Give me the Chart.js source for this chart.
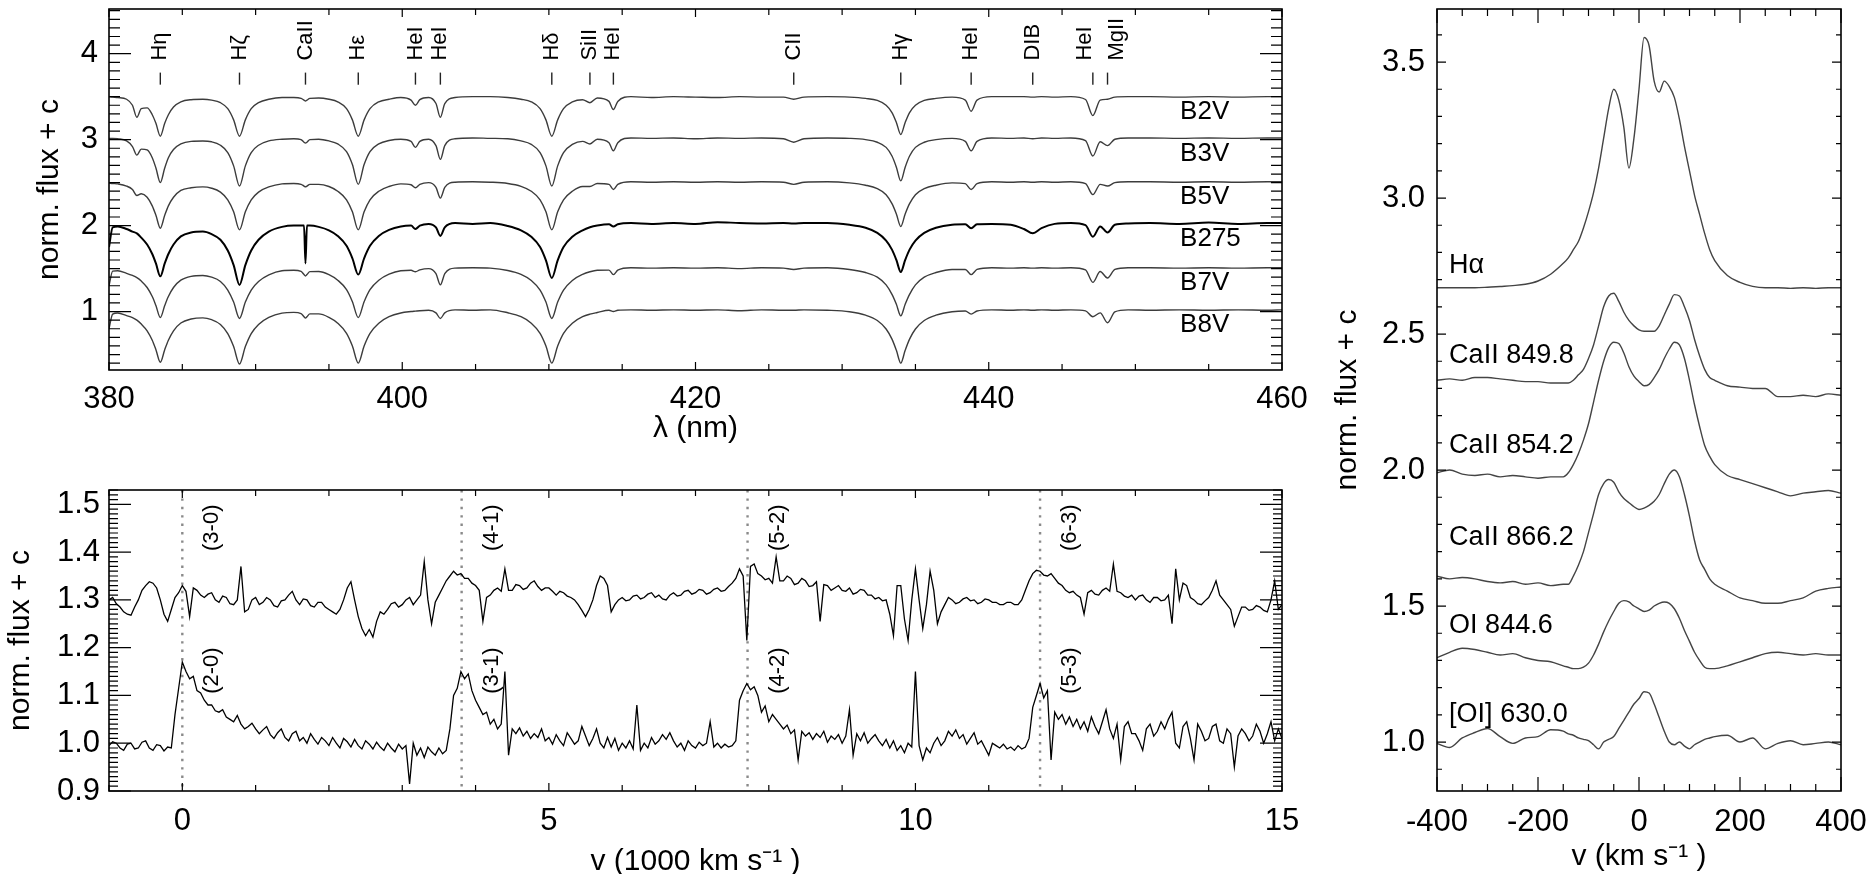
<!DOCTYPE html>
<html>
<head>
<meta charset="utf-8">
<script src="https://cdn.jsdelivr.net/npm/chart.js@4.4.1/dist/chart.umd.min.js"></script>
<style>
    body { margin: 0; background: #fff; width: 1871px; height: 874px; overflow: hidden; position: relative; }
    canvas { position: absolute; }
</style>
</head>
<body>
<canvas id="specChart" width="1340" height="444" style="left:0;top:0"></canvas>
<canvas id="bandChart" width="1340" height="414" style="left:0;top:460px"></canvas>
<canvas id="lineChart" width="571" height="874" style="left:1300px;top:0"></canvas>
<script>
// ---- top left: B-type standards and B275 (norm. flux + c) ----
const wavelengths = [
    380.0, 380.25, 380.6, 381.2, 381.6, 381.9, 382.2, 382.6, 382.95, 383.2, 383.5, 383.8, 384.05, 384.4, 384.9, 385.6, 386.4,
    387.0, 387.6, 388.1, 388.5, 388.9, 389.3, 389.7, 390.2, 390.9, 391.8, 392.6,
    393.1, 393.3, 393.4, 393.5, 393.7, 394.3, 395.0, 395.6, 396.2, 396.6, 397.0, 397.4, 397.8, 398.4, 399.1, 399.9,
    400.6, 400.9, 401.2, 401.8, 402.3, 402.6, 402.9, 403.6, 404.8, 406.0, 407.2,
    408.1, 408.8, 409.4, 409.8, 410.2, 410.6, 411.0, 411.6, 412.3, 412.8, 413.3, 414.1, 414.4, 414.7, 415.6,
    417.0, 418.5, 420.0, 421.5, 423.0, 424.5, 426.0, 426.7, 427.4, 429.0, 430.5, 431.6,
    432.4, 433.0, 433.4, 433.7, 434.0, 434.3, 434.6, 435.0, 435.6, 436.4, 437.5,
    438.4, 438.8, 439.2, 440.2, 441.5, 442.4, 443.0, 443.6, 444.5, 445.6, 446.6, 447.1, 447.6, 448.1, 448.6, 449.5,
    451.0, 453.0, 455.0, 457.0, 459.0, 460.0
];
const fluxB2V = [
    3.50, 3.495, 3.49, 3.47, 3.40, 3.26, 3.36, 3.37, 3.29, 3.19, 3.04, 3.19, 3.29, 3.38, 3.44, 3.465, 3.47,
    3.46, 3.43, 3.36, 3.23, 3.04, 3.23, 3.36, 3.43, 3.47, 3.49, 3.49,
    3.48, 3.46, 3.45, 3.46, 3.48, 3.485, 3.47, 3.44, 3.36, 3.23, 3.04, 3.23, 3.36, 3.44, 3.47, 3.49,
    3.46, 3.40, 3.465, 3.49, 3.42, 3.26, 3.42, 3.49, 3.50, 3.50, 3.49,
    3.47, 3.44, 3.36, 3.23, 3.04, 3.23, 3.36, 3.44, 3.465, 3.43, 3.485, 3.445, 3.35, 3.445, 3.50,
    3.49, 3.50, 3.495, 3.49, 3.50, 3.495, 3.495, 3.47, 3.495, 3.50, 3.495, 3.48,
    3.456, 3.40, 3.315, 3.20, 3.06, 3.20, 3.315, 3.40, 3.456, 3.48, 3.495,
    3.46, 3.33, 3.46, 3.50, 3.50, 3.50, 3.495, 3.50, 3.495, 3.50, 3.467, 3.28, 3.46, 3.47, 3.495, 3.50,
    3.50, 3.495, 3.50, 3.495, 3.50, 3.50
];
const fluxB3V = [
    3.015, 3.015, 3.01, 2.985, 2.92, 2.82, 2.89, 2.88, 2.79, 2.67, 2.50, 2.67, 2.79, 2.885, 2.95, 2.98, 2.985,
    2.975, 2.935, 2.85, 2.695, 2.46, 2.695, 2.85, 2.935, 2.985, 3.005, 3.01,
    3.0, 2.97, 2.96, 2.97, 3.0, 3.005, 2.985, 2.95, 2.86, 2.71, 2.48, 2.71, 2.86, 2.95, 2.99, 3.005,
    2.98, 2.91, 2.98, 3.005, 2.93, 2.77, 2.93, 3.01, 3.02, 3.015, 3.01,
    2.985, 2.945, 2.85, 2.695, 2.46, 2.695, 2.85, 2.945, 2.98, 2.95, 3.005, 2.965, 2.87, 2.965, 3.02,
    3.015, 3.02, 3.01, 3.02, 3.015, 3.02, 3.01, 2.97, 3.01, 3.02, 3.015, 3.0,
    2.97, 2.91, 2.81, 2.68, 2.52, 2.68, 2.81, 2.91, 2.97, 3.0, 3.015,
    2.98, 2.87, 2.98, 3.02, 3.015, 3.02, 3.01, 3.02, 3.015, 3.02, 2.99, 2.81, 2.975, 2.93, 3.005, 3.02,
    3.02, 3.015, 3.02, 3.015, 3.02, 3.02
];
const fluxB5V = [
    2.495, 2.49, 2.485, 2.46, 2.42, 2.35, 2.37, 2.33, 2.23, 2.12, 1.97, 2.12, 2.23, 2.33, 2.41, 2.44, 2.45,
    2.435, 2.39, 2.30, 2.16, 1.95, 2.16, 2.30, 2.39, 2.45, 2.485, 2.49,
    2.48, 2.46, 2.45, 2.46, 2.48, 2.48, 2.455, 2.40, 2.30, 2.16, 1.95, 2.16, 2.30, 2.40, 2.455, 2.485,
    2.475, 2.44, 2.48, 2.50, 2.445, 2.32, 2.445, 2.505, 2.51, 2.505, 2.49,
    2.457, 2.40, 2.30, 2.16, 1.95, 2.16, 2.30, 2.40, 2.455, 2.455, 2.49, 2.48, 2.42, 2.48, 2.51,
    2.505, 2.51, 2.505, 2.51, 2.505, 2.51, 2.505, 2.48, 2.505, 2.51, 2.497, 2.47,
    2.43, 2.36, 2.255, 2.135, 1.99, 2.135, 2.255, 2.36, 2.43, 2.47, 2.497,
    2.488, 2.42, 2.488, 2.51, 2.505, 2.51, 2.505, 2.51, 2.505, 2.51, 2.488, 2.36, 2.48, 2.46, 2.50, 2.51,
    2.51, 2.505, 2.51, 2.505, 2.51, 2.51
];
const fluxB275 = [
    1.75, 1.98, 1.99, 1.96, 1.93, 1.91, 1.86, 1.78, 1.67, 1.56, 1.41, 1.56, 1.67, 1.78, 1.875, 1.92, 1.93,
    1.90, 1.835, 1.71, 1.54, 1.31, 1.54, 1.71, 1.835, 1.93, 1.985, 2.0,
    2.0, 2.0, 1.56, 2.0, 2.0, 1.985, 1.945, 1.88, 1.765, 1.62, 1.43, 1.62, 1.765, 1.88, 1.95, 1.99,
    2.0, 1.96, 2.0, 2.02, 1.98, 1.88, 1.98, 2.03, 2.02, 2.03, 1.995,
    1.945, 1.87, 1.75, 1.595, 1.39, 1.595, 1.75, 1.87, 1.945, 1.98, 2.0, 2.015, 1.99, 2.015, 2.03,
    2.02, 2.03, 2.02, 2.04, 2.03, 2.025, 2.03, 2.025, 2.03, 2.03, 2.01, 1.975,
    1.915, 1.825, 1.72, 1.60, 1.46, 1.60, 1.72, 1.825, 1.915, 1.975, 2.01,
    2.015, 1.97, 2.015, 2.02, 2.01, 1.96, 1.91, 1.97, 2.02, 2.03, 2.005, 1.87, 1.99, 1.92, 2.01, 2.025,
    2.03, 2.02, 2.035, 2.02, 2.03, 2.03
];
const fluxB7V = [
    1.30, 1.47, 1.475, 1.445, 1.42, 1.395, 1.355, 1.28, 1.175, 1.07, 0.93, 1.07, 1.175, 1.28, 1.365, 1.41, 1.42,
    1.40, 1.35, 1.25, 1.11, 0.92, 1.11, 1.25, 1.35, 1.427, 1.475, 1.48,
    1.467, 1.43, 1.414, 1.43, 1.464, 1.466, 1.43, 1.365, 1.255, 1.115, 0.93, 1.115, 1.255, 1.365, 1.435, 1.475,
    1.48, 1.463, 1.485, 1.50, 1.44, 1.31, 1.44, 1.505, 1.51, 1.505, 1.478,
    1.433, 1.362, 1.25, 1.11, 0.92, 1.11, 1.25, 1.362, 1.433, 1.463, 1.48, 1.482, 1.43, 1.482, 1.51,
    1.505, 1.51, 1.505, 1.51, 1.50, 1.51, 1.505, 1.49, 1.505, 1.51, 1.49, 1.454,
    1.40, 1.31, 1.20, 1.085, 0.95, 1.085, 1.20, 1.31, 1.40, 1.454, 1.49,
    1.49, 1.43, 1.49, 1.51, 1.505, 1.51, 1.505, 1.51, 1.505, 1.51, 1.484, 1.34, 1.466, 1.39, 1.49, 1.51,
    1.51, 1.505, 1.51, 1.505, 1.51, 1.51
];
const fluxB8V = [
    0.80, 0.97, 0.983, 0.953, 0.93, 0.90, 0.855, 0.776, 0.666, 0.556, 0.41, 0.556, 0.666, 0.776, 0.867, 0.913, 0.926,
    0.905, 0.85, 0.743, 0.592, 0.39, 0.592, 0.743, 0.85, 0.932, 0.982, 0.99,
    0.977, 0.94, 0.923, 0.94, 0.973, 0.973, 0.933, 0.865, 0.747, 0.60, 0.40, 0.60, 0.747, 0.865, 0.94, 0.983,
    1.0, 1.005, 1.01, 1.015, 0.985, 0.92, 0.985, 1.02, 1.015, 1.02, 0.986,
    0.94, 0.865, 0.747, 0.60, 0.40, 0.60, 0.747, 0.865, 0.94, 0.97, 0.989, 1.015, 1.0, 1.015, 1.02,
    1.015, 1.02, 1.015, 1.02, 1.01, 1.02, 1.015, 1.015, 1.02, 1.015, 0.998, 0.958,
    0.896, 0.797, 0.679, 0.549, 0.40, 0.549, 0.679, 0.797, 0.896, 0.958, 0.998,
    1.007, 0.97, 1.007, 1.02, 1.015, 1.02, 1.015, 1.02, 1.015, 1.02, 1.008, 0.94, 0.985, 0.87, 0.997, 1.02,
    1.015, 1.02, 1.015, 1.02, 1.015, 1.02
];
const spectralTypes = ['B2V', 'B3V', 'B5V', 'B275', 'B7V', 'B8V'];
const lineIds = ['Hη', 'Hζ', 'CaII', 'Hε', 'HeI', 'HeI', 'Hδ', 'SiII', 'HeI', 'CII', 'Hγ', 'HeI', 'DIB', 'HeI', 'MgII'];
const lineWavelengths = [383.5, 388.9, 393.4, 397.0, 400.9, 402.6, 410.2, 412.8, 414.4, 426.7, 434.0, 438.8, 443.0, 447.1, 448.1];

// ---- bottom left: CO bandheads, v in 1000 km/s ----
const velocity1000 = [
    -1.00, -0.95, -0.90, -0.85, -0.80, -0.75, -0.70, -0.65, -0.60, -0.55, -0.50, -0.45, -0.40, -0.35, -0.30, -0.25, -0.20, -0.15, -0.10, -0.05,
    0.00, 0.05, 0.10, 0.15, 0.20, 0.25, 0.30, 0.35, 0.40, 0.45, 0.50, 0.55, 0.60, 0.65, 0.70, 0.75, 0.80, 0.85, 0.90, 0.95,
    1.00, 1.05, 1.10, 1.15, 1.20, 1.25, 1.30, 1.35, 1.40, 1.45, 1.50, 1.55, 1.60, 1.65, 1.70, 1.75, 1.80, 1.85, 1.90, 1.95,
    2.00, 2.05, 2.10, 2.15, 2.20, 2.25, 2.30, 2.35, 2.40, 2.45, 2.50, 2.55, 2.60, 2.65, 2.70, 2.75, 2.80, 2.85, 2.90, 2.95,
    3.00, 3.05, 3.10, 3.15, 3.20, 3.25, 3.30, 3.35, 3.40, 3.45, 3.50, 3.55, 3.60, 3.65, 3.70, 3.75, 3.80, 3.85, 3.90, 3.95,
    4.00, 4.05, 4.10, 4.15, 4.20, 4.25, 4.30, 4.35, 4.40, 4.45, 4.50, 4.55, 4.60, 4.65, 4.70, 4.75, 4.80, 4.85, 4.90, 4.95,
    5.00, 5.05, 5.10, 5.15, 5.20, 5.25, 5.30, 5.35, 5.40, 5.45, 5.50, 5.55, 5.60, 5.65, 5.70, 5.75, 5.80, 5.85, 5.90, 5.95,
    6.00, 6.05, 6.10, 6.15, 6.20, 6.25, 6.30, 6.35, 6.40, 6.45, 6.50, 6.55, 6.60, 6.65, 6.70, 6.75, 6.80, 6.85, 6.90, 6.95,
    7.00, 7.05, 7.10, 7.15, 7.20, 7.25, 7.30, 7.35, 7.40, 7.45, 7.50, 7.55, 7.60, 7.65, 7.70, 7.75, 7.80, 7.85, 7.90, 7.95,
    8.00, 8.05, 8.10, 8.15, 8.20, 8.25, 8.30, 8.35, 8.40, 8.45, 8.50, 8.55, 8.60, 8.65, 8.70, 8.75, 8.80, 8.85, 8.90, 8.95,
    9.00, 9.05, 9.10, 9.15, 9.20, 9.25, 9.30, 9.35, 9.40, 9.45, 9.50, 9.55, 9.60, 9.65, 9.70, 9.75, 9.80, 9.85, 9.90, 9.95,
    10.00, 10.05, 10.10, 10.15, 10.20, 10.25, 10.30, 10.35, 10.40, 10.45, 10.50, 10.55, 10.60, 10.65, 10.70, 10.75, 10.80, 10.85, 10.90, 10.95,
    11.00, 11.05, 11.10, 11.15, 11.20, 11.25, 11.30, 11.35, 11.40, 11.45, 11.50, 11.55, 11.60, 11.65, 11.70, 11.75, 11.80, 11.85, 11.90, 11.95,
    12.00, 12.05, 12.10, 12.15, 12.20, 12.25, 12.30, 12.35, 12.40, 12.45, 12.50, 12.55, 12.60, 12.65, 12.70, 12.75, 12.80, 12.85, 12.90, 12.95,
    13.00, 13.05, 13.10, 13.15, 13.20, 13.25, 13.30, 13.35, 13.40, 13.45, 13.50, 13.55, 13.60, 13.65, 13.70, 13.75, 13.80, 13.85, 13.90, 13.95,
    14.00, 14.05, 14.10, 14.15, 14.20, 14.25, 14.30, 14.35, 14.40, 14.45, 14.50, 14.55, 14.60, 14.65, 14.70, 14.75, 14.80, 14.85, 14.90, 14.95,
    15.00
];
const fluxUpper = [
    1.300, 1.305, 1.292, 1.285, 1.275, 1.270, 1.268, 1.285, 1.300, 1.320, 1.330, 1.338, 1.335, 1.325, 1.300, 1.270, 1.255, 1.280, 1.305, 1.315,
    1.330, 1.318, 1.265, 1.325, 1.320, 1.310, 1.305, 1.312, 1.315, 1.300, 1.295, 1.308, 1.305, 1.292, 1.290, 1.300, 1.370, 1.275, 1.280, 1.300,
    1.305, 1.290, 1.295, 1.305, 1.300, 1.288, 1.285, 1.298, 1.300, 1.310, 1.318, 1.300, 1.290, 1.302, 1.300, 1.288, 1.285, 1.295, 1.295, 1.285,
    1.280, 1.275, 1.270, 1.280, 1.300, 1.325, 1.338, 1.300, 1.265, 1.240, 1.225, 1.238, 1.222, 1.255, 1.275, 1.270, 1.280, 1.292, 1.295, 1.285,
    1.290, 1.300, 1.305, 1.290, 1.300, 1.310, 1.380, 1.300, 1.250, 1.295, 1.310, 1.325, 1.340, 1.350, 1.360, 1.352, 1.355, 1.345, 1.345, 1.335,
    1.330, 1.320, 1.255, 1.305, 1.310, 1.320, 1.325, 1.318, 1.365, 1.320, 1.320, 1.332, 1.330, 1.322, 1.325, 1.335, 1.340, 1.328, 1.320, 1.325,
    1.325, 1.318, 1.310, 1.318, 1.315, 1.308, 1.305, 1.300, 1.290, 1.278, 1.265, 1.280, 1.300, 1.330, 1.350, 1.345, 1.330, 1.275, 1.290, 1.300,
    1.305, 1.298, 1.300, 1.308, 1.310, 1.302, 1.305, 1.312, 1.315, 1.305, 1.310, 1.302, 1.300, 1.310, 1.315, 1.308, 1.310, 1.318, 1.320, 1.312,
    1.315, 1.322, 1.320, 1.312, 1.315, 1.322, 1.325, 1.318, 1.320, 1.328, 1.335, 1.345, 1.365, 1.350, 1.215, 1.370, 1.375, 1.355, 1.350, 1.342,
    1.345, 1.335, 1.390, 1.340, 1.340, 1.350, 1.345, 1.332, 1.335, 1.345, 1.340, 1.328, 1.330, 1.338, 1.255, 1.332, 1.330, 1.320, 1.325, 1.330,
    1.320, 1.318, 1.325, 1.312, 1.315, 1.322, 1.320, 1.310, 1.310, 1.302, 1.305, 1.298, 1.300, 1.270, 1.225, 1.330, 1.330, 1.260, 1.215, 1.300,
    1.365, 1.300, 1.240, 1.290, 1.360, 1.320, 1.250, 1.275, 1.290, 1.305, 1.300, 1.292, 1.295, 1.302, 1.305, 1.298, 1.300, 1.292, 1.295, 1.302,
    1.300, 1.295, 1.295, 1.290, 1.290, 1.295, 1.295, 1.290, 1.290, 1.300, 1.320, 1.340, 1.355, 1.362, 1.360, 1.352, 1.350, 1.355, 1.345, 1.335,
    1.330, 1.320, 1.315, 1.318, 1.310, 1.305, 1.270, 1.315, 1.320, 1.312, 1.310, 1.320, 1.325, 1.318, 1.375, 1.318, 1.315, 1.308, 1.305, 1.310,
    1.300, 1.308, 1.310, 1.300, 1.295, 1.305, 1.305, 1.298, 1.300, 1.310, 1.250, 1.365, 1.300, 1.335, 1.330, 1.305, 1.300, 1.292, 1.290, 1.298,
    1.305, 1.320, 1.340, 1.310, 1.300, 1.290, 1.280, 1.245, 1.265, 1.285, 1.285, 1.278, 1.280, 1.288, 1.285, 1.278, 1.275, 1.300, 1.340, 1.280,
    1.290
];
const fluxLower = [
    0.995, 1.003, 1.000, 0.990, 0.985, 0.998, 1.000, 0.988, 0.990, 1.002, 1.005, 0.990, 0.985, 0.997, 0.995, 0.984, 0.992, 0.990, 1.060, 1.115,
    1.170, 1.150, 1.135, 1.140, 1.110, 1.105, 1.090, 1.080, 1.080, 1.068, 1.065, 1.070, 1.055, 1.050, 1.045, 1.058, 1.040, 1.030, 1.035, 1.042,
    1.030, 1.020, 1.028, 1.035, 1.018, 1.010, 1.022, 1.030, 1.012, 1.005, 1.020, 1.025, 1.005, 1.012, 1.000, 1.020, 1.008, 0.998, 1.012, 1.005,
    0.995, 1.012, 1.000, 0.990, 1.010, 1.003, 0.992, 1.008, 0.995, 0.988, 1.005, 0.998, 0.988, 1.002, 0.992, 0.985, 1.000, 0.990, 0.982, 0.998,
    0.988, 0.995, 0.915, 1.000, 0.975, 0.990, 0.970, 0.992, 0.982, 0.975, 0.990, 0.978, 0.985, 1.030, 1.100, 1.115, 1.150, 1.135, 1.145, 1.110,
    1.090, 1.075, 1.060, 1.065, 1.040, 1.050, 1.030, 1.040, 1.150, 0.975, 1.030, 1.020, 1.032, 1.015, 1.025, 1.010, 1.020, 1.012, 1.030, 1.005,
    1.012, 0.998, 1.018, 1.005, 0.995, 1.022, 1.010, 0.998, 1.005, 1.035, 1.015, 0.995, 1.010, 1.030, 1.000, 0.990, 1.012, 0.992, 1.010, 0.985,
    1.000, 0.990, 1.005, 0.988, 1.080, 0.985, 1.000, 0.990, 1.012, 0.998, 1.005, 1.018, 1.008, 1.022, 1.005, 0.992, 1.000, 0.985, 1.005, 0.995,
    0.990, 1.002, 0.995, 1.000, 1.045, 0.992, 1.000, 0.990, 0.998, 0.992, 0.995, 1.005, 1.090, 1.110, 1.125, 1.112, 1.118, 1.100, 1.065, 1.078,
    1.045, 1.060, 1.050, 1.040, 1.030, 1.038, 1.020, 1.028, 0.965, 1.025, 1.015, 1.022, 1.008, 1.020, 1.012, 1.025, 1.002, 1.015, 1.008, 1.018,
    1.000, 1.015, 1.070, 0.975, 1.020, 1.005, 1.022, 1.000, 1.010, 1.018, 1.005, 0.995, 1.008, 0.990, 1.005, 0.985, 0.995, 0.980, 1.000, 0.992,
    1.150, 0.995, 0.965, 0.990, 0.980, 1.000, 1.012, 0.995, 1.005, 1.025, 1.015, 1.028, 1.010, 1.018, 0.998, 1.010, 1.022, 0.998, 1.005, 0.990,
    0.975, 1.000, 0.995, 0.990, 0.998, 0.988, 0.992, 0.985, 0.995, 0.988, 0.992, 1.010, 1.075, 1.100, 1.125, 1.095, 1.110, 0.965, 1.065, 1.050,
    1.060, 1.040, 1.055, 1.035, 1.050, 1.030, 1.045, 1.025, 1.055, 1.035, 1.020, 1.045, 1.070, 1.030, 1.010, 1.040, 0.965, 1.035, 1.045, 1.020,
    1.020, 1.005, 0.985, 1.030, 1.040, 1.015, 1.025, 1.045, 1.030, 1.050, 1.065, 1.000, 0.990, 1.035, 1.045, 1.010, 0.965, 1.040, 1.025, 1.005,
    1.010, 1.035, 1.040, 1.005, 1.000, 1.030, 1.020, 0.950, 1.015, 1.030, 1.020, 1.005, 1.015, 1.040, 1.025, 1.000, 1.020, 1.045, 1.005, 1.030,
    1.010
];
const bandHeads = [0, 3.81, 7.71, 11.70];
const upperBands = ['(3-0)', '(4-1)', '(5-2)', '(6-3)'];
const lowerBands = ['(2-0)', '(3-1)', '(4-2)', '(5-3)'];

// ---- right: emission line profiles, v in km/s ----
const velocityKms = [
    -400, -375, -350, -325, -300, -275, -250, -225, -200, -175, -150,
    -140, -130, -120, -110, -100, -90, -80, -70, -60, -50, -40, -30, -20, -10,
    0, 10, 20, 30, 40, 50, 60, 70, 80, 90, 100, 110, 120, 130, 140, 150,
    175, 200, 225, 250, 275, 300, 325, 350, 375, 400
];
const fluxHalpha = [
    2.67, 2.67, 2.67, 2.67, 2.672, 2.675, 2.678, 2.683, 2.695, 2.72, 2.76,
    2.78, 2.81, 2.84, 2.89, 2.95, 3.02, 3.11, 3.22, 3.33, 3.40, 3.36, 3.26, 3.11, 3.22,
    3.40, 3.59, 3.56, 3.43, 3.39, 3.43, 3.41, 3.37, 3.29, 3.19, 3.10, 3.01, 2.94, 2.87, 2.81, 2.77,
    2.715, 2.69, 2.675, 2.67, 2.67, 2.668, 2.67, 2.668, 2.67, 2.67
];
const fluxCa8498 = [
    2.33, 2.335, 2.33, 2.34, 2.34, 2.335, 2.33, 2.325, 2.325, 2.32, 2.32,
    2.32, 2.33, 2.35, 2.37, 2.41, 2.46, 2.53, 2.60, 2.64, 2.65, 2.62, 2.58, 2.55, 2.53,
    2.515, 2.51, 2.51, 2.51, 2.53, 2.57, 2.61, 2.645, 2.64, 2.60, 2.55, 2.48, 2.42, 2.37, 2.34, 2.33,
    2.31, 2.305, 2.30, 2.30, 2.27, 2.27, 2.275, 2.27, 2.28, 2.275
];
const fluxCa8542 = [
    1.99, 2.0, 1.985, 1.98, 1.985, 1.975, 1.98, 1.975, 1.97, 1.975, 1.975,
    1.99, 2.02, 2.06, 2.11, 2.17, 2.25, 2.33, 2.40, 2.45, 2.47, 2.465, 2.43, 2.38, 2.345,
    2.325, 2.31, 2.315, 2.34, 2.37, 2.41, 2.445, 2.47, 2.46, 2.41, 2.33, 2.24, 2.16, 2.09, 2.05, 2.02,
    1.98, 1.965, 1.95, 1.935, 1.92, 1.905, 1.915, 1.92, 1.925, 1.915
];
const fluxCa8662 = [
    1.61, 1.60, 1.605, 1.60, 1.59, 1.585, 1.59, 1.58, 1.585, 1.575, 1.58,
    1.58, 1.61, 1.65, 1.70, 1.77, 1.84, 1.91, 1.95, 1.965, 1.955, 1.92, 1.895, 1.88, 1.865,
    1.855, 1.86, 1.87, 1.885, 1.91, 1.95, 1.985, 2.0, 1.975, 1.91, 1.83, 1.74, 1.67, 1.635, 1.60, 1.58,
    1.555, 1.53, 1.52, 1.51, 1.51, 1.52, 1.53, 1.555, 1.565, 1.57
];
const fluxOI8446 = [
    1.31, 1.33, 1.345, 1.34, 1.33, 1.32, 1.325, 1.31, 1.30, 1.295, 1.28,
    1.275, 1.27, 1.27, 1.275, 1.29, 1.32, 1.36, 1.405, 1.445, 1.48, 1.51, 1.52, 1.515, 1.50,
    1.49, 1.48, 1.485, 1.50, 1.51, 1.515, 1.51, 1.49, 1.455, 1.41, 1.37, 1.33, 1.30, 1.275, 1.27, 1.27,
    1.28, 1.295, 1.31, 1.325, 1.33, 1.325, 1.32, 1.325, 1.32, 1.32
];
const fluxOI6300 = [
    0.995, 0.98, 1.015, 1.035, 1.05, 1.02, 0.995, 1.015, 1.02, 1.045, 1.04,
    1.03, 1.025, 1.015, 1.01, 1.005, 0.99, 0.975, 1.0, 1.01, 1.02, 1.05, 1.08, 1.11, 1.14,
    1.16, 1.185, 1.18, 1.14, 1.09, 1.04, 1.0, 0.99, 1.0, 0.985, 0.975, 0.99, 1.0, 1.01, 1.015, 1.02,
    1.025, 1.0, 1.015, 0.975, 0.995, 1.005, 0.99, 0.995, 1.0, 0.99
];
const profileNames = ['Hα', 'CaII 849.8', 'CaII 854.2', 'CaII 866.2', 'OI 844.6', '[OI] 630.0'];

const FONT = '"Liberation Sans", Arial, Helvetica, sans-serif';
Chart.defaults.font.family = FONT;
Chart.defaults.color = '#000';

function toPoints(xs, ys) {
    return xs.map((x, i) => ({ x: x, y: ys[i] }));
}

// IDL-like frame with inward ticks on all four sides
function tickFrame(spec) {
    return {
        id: 'tickFrame',
        afterDatasetsDraw(chart) {
            const { ctx, chartArea: a, scales } = chart;
            ctx.save();
            ctx.strokeStyle = '#000';
            ctx.lineWidth = 1.2;
            ctx.beginPath();
            ['x', 'y'].forEach(key => {
                const s = scales[key], t = spec[key];
                const ratio = Math.round(t.major / t.minor);
                const first = Math.ceil(s.min / t.minor - 1e-6);
                const last = Math.floor(s.max / t.minor + 1e-6);
                for (let k = first; k <= last; k++) {
                    const len = (k % ratio === 0) ? t.majorLen : t.minorLen;
                    const p = s.getPixelForValue(k * t.minor);
                    if (key === 'x') {
                        ctx.moveTo(p, a.bottom); ctx.lineTo(p, a.bottom - len);
                        ctx.moveTo(p, a.top); ctx.lineTo(p, a.top + len);
                    } else {
                        ctx.moveTo(a.left, p); ctx.lineTo(a.left + len, p);
                        ctx.moveTo(a.right, p); ctx.lineTo(a.right - len, p);
                    }
                }
            });
            ctx.stroke();
            ctx.lineWidth = 1.6;
            ctx.strokeRect(a.left, a.top, a.right - a.left, a.bottom - a.top);
            ctx.restore();
        }
    };
}

function axis(min, max, step, fmt, padding, width, title, titlePad) {
    return {
        type: 'linear',
        min: min,
        max: max,
        grid: { display: false, drawTicks: false },
        border: { display: false },
        ticks: {
            stepSize: step,
            includeBounds: false,
            autoSkip: false,
            maxRotation: 0,
            padding: padding,
            font: { size: 31 },
            color: '#000',
            callback: fmt
        },
        title: {
            display: !!title,
            text: title,
            font: { size: 30, lineHeight: 1.0 },
            color: '#000',
            padding: titlePad
        },
        afterFit: s => {
            // fixed axis band, and no extra room for edge labels
            if (s.isHorizontal()) s.height = width; else s.width = width;
            s.paddingTop = s.paddingBottom = s.paddingLeft = s.paddingRight = 0;
        }
    };
}

function baseOptions(padding, scales) {
    return {
        responsive: false,
        animation: false,
        events: [],
        layout: { padding: padding },
        plugins: { legend: { display: false }, tooltip: { enabled: false } },
        scales: scales
    };
}

// ---- top-left chart ----
const specSeries = [fluxB2V, fluxB3V, fluxB5V, fluxB275, fluxB7V, fluxB8V];
const labelNudge = [0, 0, 0, 0, 0, 0, 0, 0, 0, 0, 0, 0, 0, -8, 9];

new Chart(document.getElementById('specChart'), {
    type: 'line',
    data: {
        datasets: specSeries.map((ys, i) => ({
            label: spectralTypes[i],
            data: toPoints(wavelengths, ys),
            borderColor: spectralTypes[i] === 'B275' ? '#000' : '#3c3c3c',
            borderWidth: spectralTypes[i] === 'B275' ? 2.0 : 1.4,
            pointRadius: 0,
            cubicInterpolationMode: 'monotone'
        }))
    },
    options: baseOptions({ top: 9, right: 58, left: 0, bottom: 0 }, {
        x: axis(380, 460, 20, v => v.toFixed(0), 11, 74, 'λ (nm)', { top: 0, bottom: 0 }),
        y: axis(0.32, 4.52, 1, v => v.toFixed(0), 11, 109, 'norm. flux + c', { top: 35, bottom: 0 })
    }),
    plugins: [
        tickFrame({
            x: { major: 20, minor: 5, majorLen: 8, minorLen: 6 },
            y: { major: 1, minor: 0.1, majorLen: 22, minorLen: 11 }
        }),
        {
            id: 'lineMarks',
            afterDatasetsDraw(chart) {
                const { ctx, scales: { x, y } } = chart;
                ctx.save();
                ctx.strokeStyle = '#222';
                ctx.lineWidth = 1.4;
                ctx.fillStyle = '#000';
                ctx.font = '22px ' + FONT;
                ctx.textAlign = 'left';
                ctx.textBaseline = 'middle';
                lineWavelengths.forEach((w, i) => {
                    const px = x.getPixelForValue(w);
                    ctx.beginPath();
                    ctx.moveTo(px, y.getPixelForValue(3.78));
                    ctx.lineTo(px, y.getPixelForValue(3.64));
                    ctx.stroke();
                    ctx.save();
                    ctx.translate(px + labelNudge[i], y.getPixelForValue(3.92));
                    ctx.rotate(-Math.PI / 2);
                    ctx.fillText(lineIds[i], 0, 0);
                    ctx.restore();
                });
                ctx.font = '26px ' + FONT;
                specSeries.forEach((ys, i) => {
                    ctx.fillText(spectralTypes[i], x.getPixelForValue(453.05), y.getPixelForValue(ys[ys.length - 1] - 0.18));
                });
                ctx.restore();
            }
        }
    ]
});

// ---- bottom-left chart ----
new Chart(document.getElementById('bandChart'), {
    type: 'line',
    data: {
        datasets: [fluxUpper, fluxLower].map(ys => ({
            data: toPoints(velocity1000, ys),
            borderColor: '#000',
            borderWidth: 1.3,
            pointRadius: 0,
            tension: 0
        }))
    },
    options: baseOptions({ top: 30, right: 58, left: 0, bottom: 0 }, {
        x: axis(-1, 15, 5, v => v.toFixed(0), 12, 83, 'v (1000 km s⁻¹ )', { top: 0, bottom: -3 }),
        y: axis(0.9, 1.53, 0.1, v => v.toFixed(1), 9, 109, 'norm. flux + c', { top: 6, bottom: 0 })
    }),
    plugins: [
        tickFrame({
            x: { major: 5, minor: 1, majorLen: 8, minorLen: 6 },
            y: { major: 0.1, minor: 0.01, majorLen: 22, minorLen: 9 }
        }),
        {
            id: 'bandMarks',
            beforeDatasetsDraw(chart) {
                const { ctx, chartArea: a, scales: { x } } = chart;
                ctx.save();
                ctx.strokeStyle = '#8a8a8a';
                ctx.lineWidth = 2.4;
                ctx.setLineDash([2.4, 6]);
                bandHeads.forEach(v => {
                    const px = x.getPixelForValue(v);
                    ctx.beginPath();
                    ctx.moveTo(px, a.top);
                    ctx.lineTo(px, a.bottom);
                    ctx.stroke();
                });
                ctx.restore();
            },
            afterDatasetsDraw(chart) {
                const { ctx, scales: { x, y } } = chart;
                ctx.save();
                ctx.fillStyle = '#000';
                ctx.font = '22px ' + FONT;
                ctx.textAlign = 'center';
                ctx.textBaseline = 'middle';
                bandHeads.forEach((v, i) => {
                    [[upperBands[i], 1.451], [lowerBands[i], 1.152]].forEach(([txt, yv]) => {
                        ctx.save();
                        ctx.translate(x.getPixelForValue(v + 0.41), y.getPixelForValue(yv));
                        ctx.rotate(-Math.PI / 2);
                        ctx.fillText(txt, 0, 0);
                        ctx.restore();
                    });
                });
                ctx.restore();
            }
        }
    ]
});

// ---- right chart ----
const profileSeries = [fluxHalpha, fluxCa8498, fluxCa8542, fluxCa8662, fluxOI8446, fluxOI6300];
const profileLabelY = [2.75, 2.42, 2.09, 1.75, 1.43, 1.10];

new Chart(document.getElementById('lineChart'), {
    type: 'line',
    data: {
        datasets: profileSeries.map((ys, i) => ({
            label: profileNames[i],
            data: toPoints(velocityKms, ys),
            borderColor: '#444',
            borderWidth: 1.4,
            pointRadius: 0,
            cubicInterpolationMode: 'monotone'
        }))
    },
    options: baseOptions({ top: 9, right: 30, left: 0, bottom: 0 }, {
        x: axis(-400, 400, 200, v => v.toFixed(0), 13, 83, 'v (km s⁻¹ )', { top: 0, bottom: 2 }),
        y: axis(0.82, 3.695, 0.5, v => v.toFixed(1), 12, 137, 'norm. flux + c', { top: 33, bottom: 0 })
    }),
    plugins: [
        tickFrame({
            x: { major: 200, minor: 50, majorLen: 14, minorLen: 7 },
            y: { major: 0.5, minor: 0.1, majorLen: 9, minorLen: 5 }
        }),
        {
            id: 'profileNames',
            afterDatasetsDraw(chart) {
                const { ctx, scales: { x, y } } = chart;
                ctx.save();
                ctx.fillStyle = '#000';
                ctx.font = '27px ' + FONT;
                ctx.textAlign = 'left';
                ctx.textBaseline = 'middle';
                profileNames.forEach((name, i) => {
                    ctx.fillText(name, x.getPixelForValue(-376), y.getPixelForValue(profileLabelY[i]));
                });
                ctx.restore();
            }
        }
    ]
});
</script>
</body>
</html>
